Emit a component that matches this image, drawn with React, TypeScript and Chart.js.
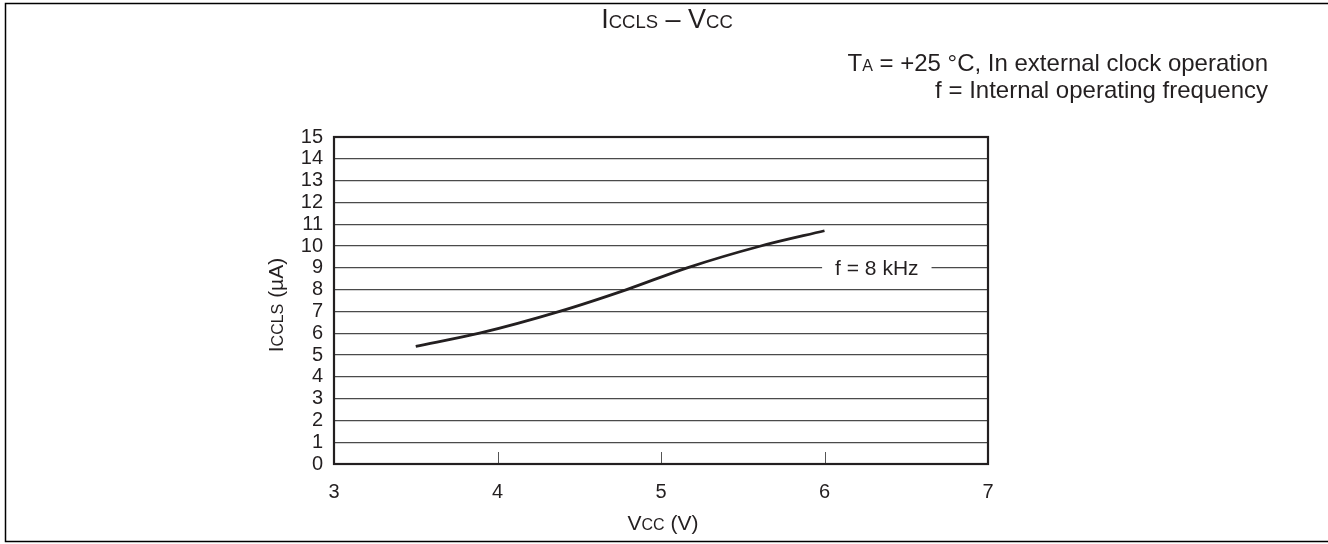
import React, { useEffect, useRef } from "react";
import { Chart, registerables } from "chart.js";

Chart.register(...registerables);

// ---- data ----
const vccValues = [3.5, 3.89, 4.38, 4.79, 5.16, 5.61, 6.0];
const icclsValues = [5.4, 6.0, 7.0, 8.0, 9.0, 10.0, 10.7];
const xTickValues = [3, 4, 5, 6, 7];
const yTickValues = [0, 1, 2, 3, 4, 5, 6, 7, 8, 9, 10, 11, 12, 13, 14, 15];
const innerXTicks = [4, 5, 6];
const seriesLabel = "f = 8 kHz";
const seriesLabelPos = { x: 6.32, y: 9 };

const FONT = "'Liberation Sans', Arial, Helvetica, sans-serif";
const INK = "#231f20";

type Part = { t: string; s: number };

function drawRich(
  ctx: CanvasRenderingContext2D,
  parts: Part[],
  x: number,
  y: number,
  align: "left" | "center" | "right"
) {
  ctx.save();
  ctx.textBaseline = "alphabetic";
  ctx.textAlign = "left";
  let total = 0;
  const widths = parts.map((p) => {
    ctx.font = `${p.s}px ${FONT}`;
    const w = ctx.measureText(p.t).width;
    total += w;
    return w;
  });
  let cx = align === "center" ? x - total / 2 : align === "right" ? x - total : x;
  parts.forEach((p, i) => {
    ctx.font = `${p.s}px ${FONT}`;
    ctx.fillText(p.t, cx, y);
    cx += widths[i];
  });
  ctx.restore();
}

const decorPlugin = {
  id: "decor",
  afterDatasetsDraw(chart: any) {
    const ctx: CanvasRenderingContext2D = chart.ctx;
    const { left, right, top, bottom } = chart.chartArea;
    const xs = chart.scales.x;
    const ys = chart.scales.y;

    // series label with gap in gridline
    const lx = xs.getPixelForValue(seriesLabelPos.x);
    const ly = ys.getPixelForValue(seriesLabelPos.y);
    ctx.save();
    ctx.font = `21px ${FONT}`;
    const lw = ctx.measureText(seriesLabel).width;
    ctx.fillStyle = "#fff";
    ctx.fillRect(lx - lw / 2 - 13, ly - 3, lw + 26, 6);
    ctx.fillStyle = INK;
    ctx.textAlign = "center";
    ctx.textBaseline = "middle";
    ctx.fillText(seriesLabel, lx, ly + 1);
    ctx.restore();

    // inner x ticks
    ctx.save();
    ctx.strokeStyle = "#555";
    ctx.lineWidth = 1;
    innerXTicks.forEach((v) => {
      const px = Math.round(xs.getPixelForValue(v)) + 0.5;
      ctx.beginPath();
      ctx.moveTo(px, bottom);
      ctx.lineTo(px, bottom - 12);
      ctx.stroke();
    });
    ctx.restore();

    // plot border
    ctx.save();
    ctx.strokeStyle = INK;
    ctx.lineWidth = 2.2;
    ctx.strokeRect(left, top, right - left, bottom - top);
    ctx.restore();
  },
  afterDraw(chart: any) {
    const ctx: CanvasRenderingContext2D = chart.ctx;
    ctx.save();
    ctx.fillStyle = INK;
    // title
    drawRich(
      ctx,
      [
        { t: "I", s: 27 },
        { t: "CCLS", s: 18.5 },
        { t: " \u2013 V", s: 27 },
        { t: "CC", s: 18.5 },
      ],
      667,
      28,
      "center"
    );
    // conditions
    drawRich(
      ctx,
      [
        { t: "T", s: 24 },
        { t: "A", s: 16 },
        { t: " = +25 \u00b0C, In external clock operation", s: 24 },
      ],
      1268,
      71,
      "right"
    );
    drawRich(ctx, [{ t: "f = Internal operating frequency", s: 24 }], 1268, 98, "right");
    // x axis title
    drawRich(
      ctx,
      [
        { t: "V", s: 21 },
        { t: "CC", s: 16 },
        { t: " (V)", s: 21 },
      ],
      663,
      530,
      "center"
    );
    // y axis title (rotated)
    ctx.translate(283, 305);
    ctx.rotate(-Math.PI / 2);
    drawRich(
      ctx,
      [
        { t: "I", s: 21 },
        { t: "CCLS", s: 16 },
        { t: " (\u00b5A)", s: 21 },
      ],
      0,
      0,
      "center"
    );
    ctx.restore();

    // outer frame
    ctx.save();
    ctx.strokeStyle = "#000";
    ctx.lineWidth = 1.5;
    ctx.beginPath();
    ctx.moveTo(1330, 3.5);
    ctx.lineTo(5.5, 3.5);
    ctx.lineTo(5.5, 541.5);
    ctx.lineTo(1330, 541.5);
    ctx.stroke();
    ctx.restore();
  },
};

export default function App() {
  const ref = useRef<HTMLCanvasElement | null>(null);

  useEffect(() => {
    if (!ref.current) return;
    const chart = new Chart(ref.current, {
      type: "line",
      data: {
        datasets: [
          {
            label: seriesLabel,
            data: vccValues.map((x, i) => ({ x, y: icclsValues[i] })),
            borderColor: INK,
            borderWidth: 2.8,
            pointRadius: 0,
            fill: false,
            cubicInterpolationMode: "monotone",
          },
        ],
      },
      options: {
        responsive: false,
        animation: false,
        devicePixelRatio: 1,
        layout: { padding: { left: 0, right: 340, top: 137, bottom: 0 } },
        plugins: {
          legend: { display: false },
          tooltip: { enabled: false },
          title: { display: false },
        },
        scales: {
          x: {
            type: "linear",
            min: 3,
            max: 7,
            afterBuildTicks: (axis: any) => {
              axis.ticks = xTickValues.map((v) => ({ value: v }));
            },
            afterFit: (axis: any) => {
              axis.height = 80;
            },
            grid: { display: false, drawTicks: false },
            border: { display: false },
            ticks: {
              color: INK,
              font: { family: FONT, size: 20 },
              padding: 16,
              maxRotation: 0,
              autoSkip: false,
            },
          },
          y: {
            type: "linear",
            min: 0,
            max: 15,
            afterBuildTicks: (axis: any) => {
              axis.ticks = yTickValues.map((v) => ({ value: v }));
            },
            afterFit: (axis: any) => {
              axis.width = 334;
            },
            grid: { color: "#4a4a4a", lineWidth: 1.3, drawTicks: false },
            border: { display: false },
            ticks: {
              color: INK,
              font: { family: FONT, size: 20, lineHeight: 1 },
              padding: 11,
              autoSkip: false,
            },
          },
        },
      },
      plugins: [decorPlugin],
    } as any);
    return () => chart.destroy();
  }, []);

  return (
    <div style={{ position: "absolute", left: 0, top: 0, width: 1328, height: 544 }}>
      <canvas ref={ref} width={1328} height={544} style={{ display: "block" }} />
    </div>
  );
}
